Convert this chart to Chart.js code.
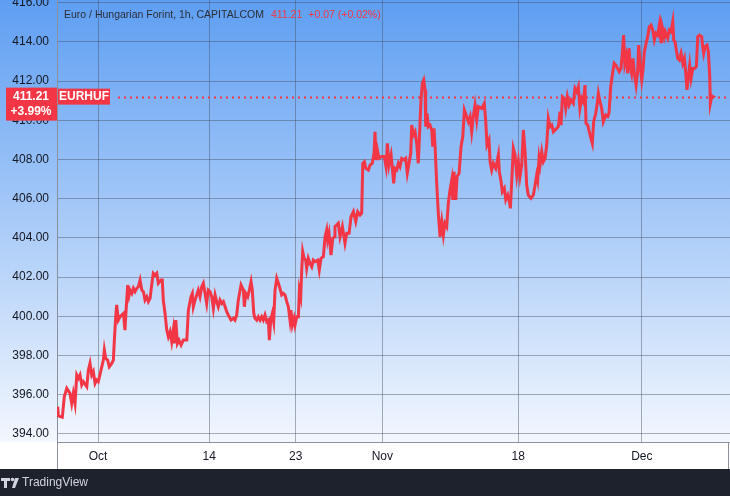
<!DOCTYPE html>
<html>
<head>
<meta charset="utf-8">
<script src="https://cdn.jsdelivr.net/npm/chart.js@4"></script>
<style>
  body { margin: 0; background: #ffffff; }
  canvas { display: block; }
</style>
</head>
<body>
<canvas id="chart" width="730" height="496"></canvas>
<script>
// EUR/HUF 1h, x = trading days since Oct 1 (weekends skipped)
const xDays = [
  -3.26,-3.21,-2.89,-2.73,-2.53,-2.27,-2.13,-2.0,-1.86,-1.72,
  -1.59,-1.46,-1.32,-1.19,-0.91,-0.78,-0.65,-0.51,-0.38,-0.24,
  -0.11,0.02,0.24,0.43,0.51,0.62,0.78,0.91,1.11,1.24,
  1.32,1.43,1.51,1.64,1.78,1.92,2.05,2.18,2.27,2.4,
  2.51,2.59,2.73,2.86,2.99,3.13,3.26,3.4,3.54,3.67,
  3.8,3.94,4.07,4.21,4.34,4.47,4.61,4.75,4.88,5.1,
  5.2,5.28,5.42,5.56,5.69,5.83,5.96,6.09,6.17,6.29,
  6.42,6.55,6.72,6.9,7.18,7.31,7.52,7.63,7.71,
  7.85,8.11,8.25,8.39,8.52,8.66,8.79,8.92,9.06,9.2,
  9.33,9.47,9.6,9.73,9.87,10.01,10.14,10.28,10.41,10.54,
  10.76,10.95,11.08,11.22,11.35,11.57,11.76,11.84,11.95,12.11,
  12.24,12.38,12.48,12.6,12.7,12.84,12.97,13.11,13.24,13.37,
  13.51,13.65,13.78,13.86,13.97,14.1,14.21,14.32,14.46,14.59,
  14.72,14.86,14.99,15.13,15.27,15.4,15.53,15.61,15.72,15.86,
  15.94,16.08,16.21,16.29,16.4,16.48,16.56,16.67,16.8,16.88,
  17.01,17.15,17.29,17.42,17.56,17.77,17.9,18.04,18.23,18.37,
  18.5,18.58,18.69,18.85,18.99,19.12,
  19.17,19.44,19.58,19.77,19.98,20.12,20.31,20.47,20.66,20.85,
  21.01,21.2,21.33,21.42,21.55,21.66,21.87,22.01,22.19,22.33,
  22.41,22.49,22.6,22.73,22.95,23.16,23.3,23.41,23.54,23.71,
  23.81,23.92,24.03,24.17,24.3,24.43,24.57,24.76,24.89,25.02,
  25.16,25.3,25.38,25.51,25.65,25.78,25.91,26.05,26.13,26.24,
  26.35,26.46,26.51,26.62,26.72,26.86,27.0,27.08,27.18,27.27,
  27.4,27.53,27.67,27.81,27.94,28.07,28.21,28.34,28.48,28.62,
  28.7,28.8,28.94,29.05,29.21,29.37,29.51,29.64,29.83,29.96,
  30.1,30.23,30.36,
  30.5,30.64,30.77,31.04,31.25,31.37,31.47,31.63,31.72,31.85,
  31.98,32.18,32.39,32.47,32.61,32.71,32.87,32.99,33.15,33.28,
  33.36,33.47,33.6,33.74,33.88,34.01,34.14,34.28,34.41,34.55,
  34.68,34.81,35.03,35.22,35.36,35.49,35.57,35.68,35.76,35.9,
  36.03,36.17,36.3,36.43,36.57,36.71,36.84,37.11,37.24,37.38,
  37.46,37.57,37.73,37.84,37.97,38.11,38.27,38.45,38.59,38.73,
  38.86,38.99,39.13,39.26,39.4,39.48,39.62,39.81,39.99,40.1,
  40.27,40.37,40.48,40.61,40.75,40.88,41.08,41.24,41.34,41.48,
  41.63,41.76,41.89,42.03,42.17,42.31,42.44,42.52,42.62,42.73,
  42.85,42.96,43.06,43.17,43.28,43.39,43.53,43.66,43.74,43.88,
  43.99,44.09,44.2,44.34,44.47,44.6,44.74,44.88,45.01,45.15,
  45.28,45.41,45.55,45.61,45.71,45.82,45.9,46.09,46.22,46.36,
  46.5,46.58,46.68,46.79,46.9,47.03,47.17,47.31,47.44,47.52,
  47.65,47.76,47.87,47.98,48.12,48.25,48.41,48.52,48.65,48.84,
  48.92,49.0,49.11,49.27,49.38,49.49,49.54,49.65
];

const prices = [
  395.39,394.92,394.85,395.9,396.33,396.07,395.56,396.07,395.56,397.01,
  396.84,397.01,396.5,396.67,396.41,397.26,397.6,397.01,397.18,396.58,
  396.75,396.67,397.26,397.77,398.28,397.86,397.77,397.43,397.6,397.77,
  398.79,399.98,400.58,399.81,399.98,400.07,400.15,399.3,400.32,401.6,
  401.09,401.34,401.17,401.43,401.26,401.43,401.51,401.85,401.34,401.26,
  400.83,401.0,400.75,400.92,401.6,402.2,402.11,402.2,401.69,401.85,
  401.85,400.83,400.15,399.3,398.96,399.22,398.71,399.3,398.62,399.81,
  398.62,398.79,398.54,398.79,398.79,400.32,401.0,401.17,400.49,
  400.83,401.34,401.0,401.51,401.69,401.17,400.66,401.34,401.26,401.0,
  400.41,401.09,400.75,400.49,400.83,400.66,400.75,400.49,400.24,400.07,
  399.81,399.9,399.81,400.07,400.83,401.6,401.34,400.49,401.17,401.0,
  401.34,401.77,401.34,400.15,399.9,399.81,399.98,399.81,399.98,399.81,
  400.07,399.73,399.81,398.79,399.81,400.15,399.73,401.34,401.94,401.69,
  401.43,401.09,401.17,401.09,400.75,400.49,399.81,400.32,399.56,399.9,
  399.56,399.98,399.98,401.34,401.0,402.36,403.3,402.96,402.87,402.45,
  402.96,402.71,402.53,402.87,402.79,402.87,402.36,402.96,403.04,404.06,
  404.41,403.9,404.24,403.13,403.98,404.06,
  404.58,404.75,404.06,404.58,403.73,404.24,404.24,405.08,405.34,404.83,
  405.34,405.17,405.26,407.81,407.89,407.55,407.47,407.72,407.81,408.32,
  409.42,407.98,408.49,408.06,408.15,408.15,407.64,408.83,407.72,408.23,
  407.55,406.79,407.55,407.47,407.81,407.64,408.06,407.98,408.06,407.3,
  407.81,408.32,409.76,409.25,409.42,408.83,407.81,409.85,411.04,411.89,
  412.06,411.55,409.68,410.36,409.68,409.76,409.51,408.66,409.59,408.66,
  406.79,405.26,404.06,404.83,404.15,404.75,404.58,405.77,406.45,406.96,
  405.94,407.38,405.94,407.13,407.3,408.66,409.17,410.53,410.19,409.93,
  410.19,409.42,410.19,
  410.78,410.02,410.7,410.61,410.87,409.93,408.74,409.0,407.89,407.47,
  407.81,407.55,408.23,407.38,406.87,406.36,406.53,405.94,406.19,405.85,
  405.51,406.87,408.57,408.23,407.21,407.89,407.13,407.72,409.51,408.4,
  406.7,406.19,406.02,406.19,406.7,407.21,406.96,408.06,407.72,408.4,
  407.89,408.06,408.74,410.1,409.68,409.76,409.42,409.59,409.68,410.44,
  409.76,411.21,411.12,410.61,411.21,410.78,411.04,410.87,411.63,411.46,
  411.72,410.61,411.12,410.95,411.8,409.85,409.76,409.25,408.83,409.93,
  410.36,410.78,411.38,410.95,410.61,409.93,410.27,410.19,410.36,411.72,
  412.4,412.91,412.82,412.65,412.48,412.65,413.59,414.35,412.91,413.25,
  412.4,413.68,412.74,412.4,413.16,412.4,411.8,412.48,413.84,412.74,
  412.06,412.57,413.5,413.93,414.27,414.78,414.86,414.61,414.1,414.44,
  414.35,414.86,414.01,414.86,414.61,414.27,414.52,414.19,414.61,414.52,
  415.03,414.1,414.01,413.59,413.17,413.08,413.42,412.91,413.17,412.65,
  411.55,412.23,412.82,412.14,412.65,412.65,412.74,414.27,414.35,414.27,
  413.76,413.42,413.76,413.84,413.5,412.23,410.87,411.21
];

const tickDays = [0, 9, 16, 23, 34, 44];
const tickNames = ['Oct', '14', '23', 'Nov', '18', 'Dec'];
const yTicks = [394, 396, 398, 400, 402, 404, 406, 408, 410, 412, 414, 416];

const lastPrice = 411.21;
const changeText = '+0.07 (+0.02%)';
const changePct = '+3.99%';
const symbol = 'EURHUF';
const titleText = 'Euro / Hungarian Forint, 1h, CAPITALCOM';

const RED = '#f23645';
const FONT = "'Liberation Sans', Arial, sans-serif";
const GRID = 'rgba(70, 80, 100, 0.45)';

// backgrounds, bottom bar, title
const decor = {
    id: 'decor',
    beforeDraw(chart) {
        const { ctx, chartArea, width, height } = chart;
        const g = ctx.createLinearGradient(0, 0, 0, chartArea.bottom);
        g.addColorStop(0, '#5e9ef2');
        g.addColorStop(1, '#f3f7fe');
        ctx.save();
        ctx.fillStyle = g;
        ctx.fillRect(0, 0, width, chartArea.bottom);
        ctx.fillStyle = '#ffffff';
        ctx.fillRect(0, chartArea.bottom, width, 27);
        ctx.fillStyle = '#1e222d';
        ctx.fillRect(0, chartArea.bottom + 27, width, height - chartArea.bottom - 27);
        ctx.restore();
    },
    beforeDatasetsDraw(chart) {
        const { ctx, chartArea } = chart;
        const y = Math.round(chart.scales.y.getPixelForValue(lastPrice)) + 0.5;
        ctx.save();
        ctx.strokeStyle = RED;
        ctx.lineWidth = 2;
        ctx.setLineDash([2, 4]);
        ctx.beginPath();
        ctx.moveTo(118, y);
        ctx.lineTo(chartArea.right, y);
        ctx.stroke();
        ctx.restore();
    },
    afterDraw(chart) {
        const { ctx, chartArea, height } = chart;
        ctx.save();
        // axis box edges
        ctx.strokeStyle = '#8a909c';
        ctx.lineWidth = 1;
        ctx.beginPath();
        ctx.moveTo(chartArea.left + 0.5, chartArea.bottom);
        ctx.lineTo(chartArea.left + 0.5, chartArea.bottom + 27);
        ctx.moveTo(728.5, chartArea.bottom);
        ctx.lineTo(728.5, chartArea.bottom + 27);
        ctx.stroke();

        // title line
        ctx.textBaseline = 'middle';
        ctx.font = '10.5px ' + FONT;
        let tx = 64;
        ctx.fillStyle = '#2a2e39';
        ctx.fillText(titleText, tx, 15);
        tx += ctx.measureText(titleText).width + 7;
        ctx.fillStyle = RED;
        ctx.fillText(lastPrice.toFixed(2), tx, 15);
        tx += ctx.measureText(lastPrice.toFixed(2)).width + 6;
        ctx.fillText(changeText, tx, 15);

        // price label on axis
        const py = chart.scales.y.getPixelForValue(lastPrice);
        ctx.fillStyle = RED;
        ctx.fillRect(6, py - 9, 51, 33);
        ctx.fillRect(58, py - 8, 52, 16);
        ctx.fillStyle = '#ffffff';
        ctx.font = 'bold 12px ' + FONT;
        ctx.textAlign = 'center';
        ctx.fillText(lastPrice.toFixed(2), 31, py);
        ctx.fillText(changePct, 31, py + 15);
        ctx.fillText(symbol, 84, py);

        // TradingView footer
        const fy = height - 13;
        ctx.fillStyle = '#d1d4dc';
        ctx.fillRect(1, fy - 5, 9, 3);
        ctx.fillRect(4, fy - 5, 3, 10);
        ctx.beginPath();
        ctx.arc(12.5, fy - 3.5, 1.8, 0, Math.PI * 2);
        ctx.fill();
        ctx.beginPath();
        ctx.moveTo(15, fy - 5);
        ctx.lineTo(19, fy - 5);
        ctx.lineTo(15, fy + 5);
        ctx.lineTo(12, fy + 5);
        ctx.closePath();
        ctx.fill();
        ctx.textAlign = 'left';
        ctx.font = '12px ' + FONT;
        ctx.fillText('TradingView', 22, fy);
        ctx.restore();
    }
};

const lastIndex = prices.length - 1;

new Chart(document.getElementById('chart'), {
    type: 'line',
    data: {
        datasets: [{
            data: xDays.map((d, i) => ({ x: d, y: prices[i] })),
            borderColor: RED,
            backgroundColor: RED,
            borderWidth: 3,
            tension: 0,
            pointRadius: ctx => ctx.dataIndex === lastIndex ? 4.5 : 0,
            pointStyle: 'triangle',
            pointRotation: 90,
            pointBorderWidth: 0
        }]
    },
    options: {
        responsive: false,
        animation: false,
        layout: { autoPadding: false, padding: { top: 0, right: 0, bottom: 27, left: 0 } },
        plugins: {
            legend: { display: false },
            tooltip: { enabled: false }
        },
        scales: {
            x: {
                type: 'linear',
                min: -3.32,
                max: 51.13,
                afterBuildTicks: s => { s.ticks = tickDays.map(v => ({ value: v })); },
                afterFit: s => { s.height = 27; s.paddingLeft = 0; s.paddingRight = 0; },
                ticks: {
                    callback: v => tickNames[tickDays.indexOf(v)],
                    color: '#131722',
                    font: { family: FONT, size: 12 },
                    padding: 7,
                    maxRotation: 0,
                    autoSkip: false
                },
                grid: { color: GRID, drawTicks: false },
                border: { display: true, color: '#8a909c' }
            },
            y: {
                min: 393.59,
                max: 416.14,
                afterBuildTicks: s => { s.ticks = yTicks.map(v => ({ value: v })); },
                afterFit: s => { s.width = 57; s.paddingTop = 0; s.paddingBottom = 0; },
                ticks: {
                    callback: v => v.toFixed(2),
                    color: '#131722',
                    font: { family: FONT, size: 12 },
                    padding: 8
                },
                grid: { color: GRID, drawTicks: false },
                border: { display: true, color: '#8a909c' }
            }
        }
    },
    plugins: [decor]
});
</script>
</body>
</html>
